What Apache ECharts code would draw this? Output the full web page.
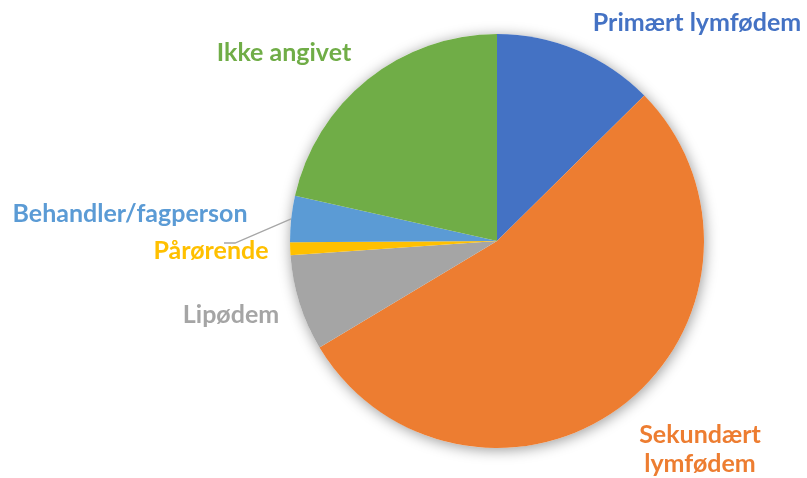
<!DOCTYPE html>
<html>
<head>
<meta charset="utf-8">
<script src="https://cdn.jsdelivr.net/npm/echarts@6/dist/echarts.min.js"></script>
<style>
  html, body { margin: 0; padding: 0; background: #fff; }
  #pie { width: 807px; height: 478px; }
</style>
</head>
<body>
<div id="pie"></div>
<script>
// andel i prosent, lest av figuren
var categories = ['Primært lymfødem', 'Sekundært lymfødem', 'Lipødem', 'Pårørende', 'Behandler/fagperson', 'Ikke angivet'];
var labelTexts = ['Primært lymfødem', 'Sekundært\nlymfødem', 'Lipødem', 'Pårørende', 'Behandler/fagperson', 'Ikke angivet'];
var values = [12.6, 53.8, 7.5, 1.0, 3.6, 21.5];

var colors = ['#4472C4', '#ED7D31', '#A5A5A5', '#FFC000', '#5B9BD5', '#70AD47'];
// label anchors (text centre)
var labelPos = [[697, 23], [700, 449], [231, 315], [211, 251], [130, 214], [284, 53]];

var myChart = echarts.init(document.getElementById('pie'));

var data = [];
for (var i = 0; i < categories.length; i++) {
    data.push({
        name: categories[i],
        value: values[i],
        itemStyle: {color: colors[i]},
        label: {color: colors[i], formatter: labelTexts[i]},
        labelLine: {show: i === 4}
    });
}
var total = values.reduce(function (a, b) { return a + b; }, 0);

var option = {
    animation: false,
    series: [
        {
            // shadow disc behind the slices
            type: 'pie',
            silent: true,
            center: [497, 241],
            radius: 207,
            z: 1,
            label: {show: false},
            labelLine: {show: false},
            itemStyle: {
                color: '#ffffff',
                shadowBlur: 14,
                shadowOffsetX: 1,
                shadowOffsetY: 2,
                shadowColor: 'rgba(0,0,0,0.4)'
            },
            data: [{name: '', value: total}]
        },
        {
            type: 'pie',
            center: [497, 241],
            radius: 207,
            startAngle: 90,
            clockwise: true,
            z: 2,
            label: {
                show: true,
                position: 'outside',
                overflow: 'none',
                edgeDistance: 0,
                fontFamily: 'Lato',
                fontWeight: 'bold',
                fontSize: 25,
                lineHeight: 29
            },
            labelLine: {
                lineStyle: {color: '#A6A6A6', width: 1.3},
                length: 10,
                length2: 10
            },
            labelLayout: function (params) {
                var p = labelPos[params.dataIndex];
                var out = {x: p[0], y: p[1], align: 'center', verticalAlign: 'middle'};
                if (params.dataIndex === 4 && params.labelLinePoints) {
                    var p0 = params.labelLinePoints[0];
                    out.labelLinePoints = [p0, [235, 243], [224, 243]];
                }
                return out;
            },
            data: data
        }
    ]
};

myChart.setOption(option);
</script>
</body>
</html>
